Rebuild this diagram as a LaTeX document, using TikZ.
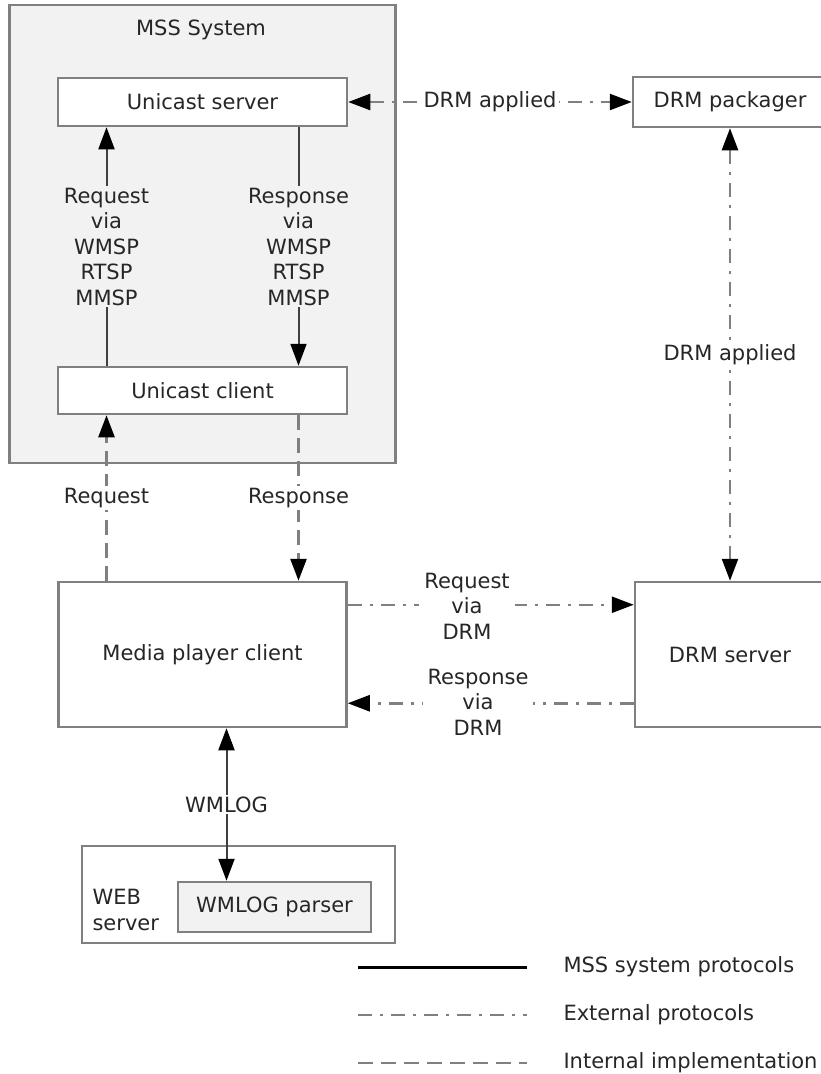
\documentclass[tikz,border=0pt]{standalone}
\usepackage{fontspec}
\setmainfont{DejaVu Sans}
\usetikzlibrary{arrows.meta}
\definecolor{fillgray}{HTML}{F2F2F2}

\begin{document}
\begin{tikzpicture}[x=1pt,y=-1pt,
	every node/.style={font=\fontsize{21}{25.5}\selectfont,text=black!85},
	>={Triangle[length=22pt,width=16pt,black]},
	box/.style={draw=gray,line width=2.5pt,fill=white,inner sep=0pt},
	lbl/.style={fill=white,align=center,inner sep=2pt},
	msp/.style={draw=black!75,line width=2pt},
	legmsp/.style={draw=black,line width=3pt},
	ext/.style={draw=gray,line width=2.5pt,dash pattern=on 14pt off 8pt on 3pt off 8pt},
	intl/.style={draw=gray,line width=2.5pt,dash pattern=on 15pt off 8pt}]
	\useasboundingbox (0,0) rectangle (821,1074);
	% MSS system
	\node[box,fill=fillgray,minimum width=386pt,minimum height=458pt] (mss) at (202.5,234) {};
	\node (msstitle) at (201,30) {MSS System};
	\node[box,minimum width=289pt,minimum height=48pt] (usrv) at (202.5,102) {Unicast server};
	\node[box,minimum width=289pt,minimum height=47pt] (ucli) at (202.5,390.5) {Unicast client};
	% outside boxes
	\node[box,minimum width=194pt,minimum height=50pt] (pkg) at (730,102) {DRM packager};
	\node[box,minimum width=288pt,minimum height=145pt] (mpc) at (202.5,654.5) {Media player client};
	\node[box,minimum width=190pt,minimum height=145pt] (drms) at (730,654.5) {DRM server};
	\node[box,minimum width=313pt,minimum height=97pt] (web) at (238.5,894.5) {};
	\node[box,fill=fillgray,minimum width=193pt,minimum height=50pt] (wlp) at (274.5,907) {WMLOG parser};
	\node[anchor=west,align=left] (webtxt) at (89,910) {WEB\\server};
	% MSS protocols
	\draw[msp,->] ([xshift=-96pt]ucli.north) -- node[lbl,fill=fillgray] (req) {Request\\via\\WMSP\\RTSP\\MMSP} ([xshift=-96pt]usrv.south);
	\draw[msp,->] ([xshift=96pt]usrv.south) -- node[lbl,fill=fillgray] (rsp) {Response\\via\\WMSP\\RTSP\\MMSP} ([xshift=96pt]ucli.north);
	% internal
	\draw[intl,->] ([xshift=-96pt]mpc.north) -- node[lbl] (reqi) {Request} ([xshift=-96pt]ucli.south);
	\draw[intl,->] ([xshift=96pt]ucli.south) -- node[lbl] (rspi) {Response} ([xshift=96pt]mpc.north);
	% external
	\draw[ext,<->] (usrv.east) -- node[lbl] (drma) {DRM applied} (pkg.west);
	\draw[ext,<->] (pkg.south) -- node[lbl] (drmb) {DRM applied} (drms.north);
	\draw[ext,->] ([yshift=-24pt]mpc.north east) -- ([yshift=-24pt]drms.north west);
	\node[lbl,inner sep=5pt] (reqx) at (467,606) {Request\\via\\DRM};
	\draw[ext,->] ([yshift=25pt]drms.south west) -- ([yshift=25pt]mpc.south east);
	\node[lbl,inner sep=5pt] (rspx) at (478,702) {Response\\via\\DRM};
	% wmlog
	\coordinate (wtop) at ([xshift=24pt]mpc.south);
	\draw[msp,<->] (wtop) -- node[lbl] (wml) {WMLOG} (wtop |- wlp.north);
	% legend
	\foreach \y/\s/\t in {967/legmsp/MSS system protocols,1015/ext/External protocols,1063/intl/Internal implementation}{
		\draw[\s] (358,\y) -- (527,\y);
		\node[anchor=west] (leg\y) at (560,\y) {\t};
	}
\end{tikzpicture}
\end{document}
